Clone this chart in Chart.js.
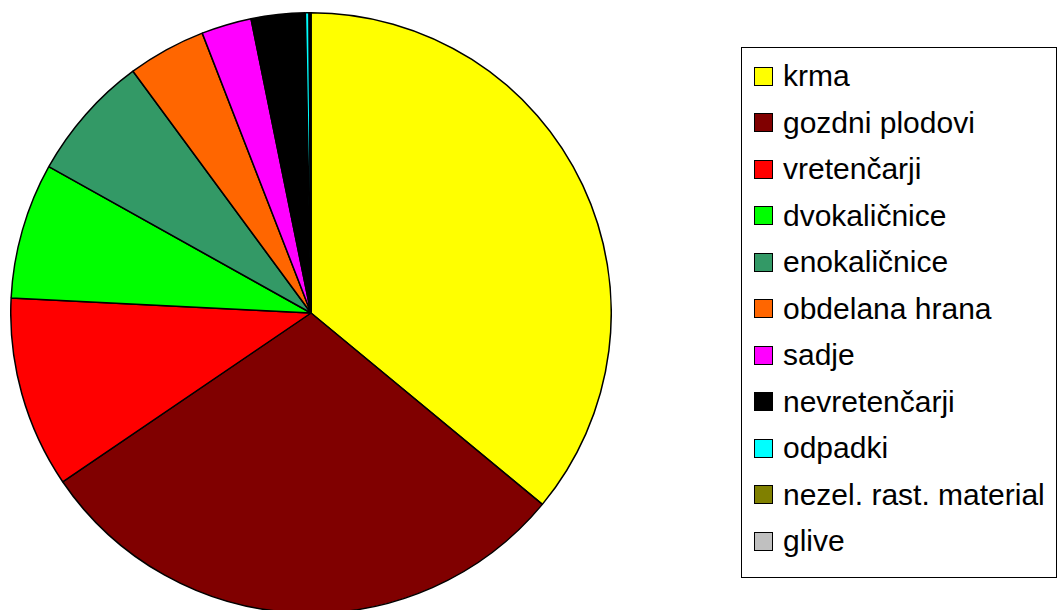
<!doctype html>
<html lang="sl">
  <head>
    <meta charset="utf-8">
    <title>Prehrana</title>
    <script src="https://cdn.jsdelivr.net/npm/chart.js"></script>
    <style>
      html, body { margin: 0; padding: 0; background: #fff; overflow: hidden; }
      body { width: 1059px; height: 610px; position: relative; font-family: "Liberation Sans", Arial, sans-serif; }
      #wrap { position: absolute; left: 10px; top: 12px; width: 602px; height: 602px; }
      #legend { position: absolute; left: 741px; top: 47px; width: 316px; height: 531px; border: 1.5px solid #000; box-sizing: border-box; padding-top: 5px; }
      .item { height: 46.5px; display: flex; align-items: center; font-size: 30px; color: #000; }
      .box { width: 19px; height: 19px; border: 1.5px solid #000; box-sizing: border-box; margin-left: 12px; margin-right: 10px; flex: none; }
    </style>
  </head>
  <body>
    <div id="wrap"><canvas id="pie"></canvas></div>
    <div id="legend"></div>
    <script>
      const categories = ['krma', 'gozdni plodovi', 'vretenčarji', 'dvokaličnice', 'enokaličnice',
        'obdelana hrana', 'sadje', 'nevretenčarji', 'odpadki', 'nezel. rast. material', 'glive'];
      const shares = [36.0, 29.5, 10.3, 7.3, 6.8, 4.2, 2.7, 2.9, 0.2, 0.05, 0.05];
      const colours = ['#FFFF00', '#800000', '#FF0000', '#00FF00', '#339966',
        '#FF6600', '#FF00FF', '#000000', '#00FFFF', '#808000', '#C0C0C0'];

      const legend = document.getElementById('legend');
      categories.forEach((name, i) => {
        const row = document.createElement('div');
        row.className = 'item';
        const box = document.createElement('span');
        box.className = 'box';
        box.style.background = colours[i];
        row.appendChild(box);
        row.appendChild(document.createTextNode(name));
        legend.appendChild(row);
      });

      new Chart(document.getElementById('pie'), {
        type: 'pie',
        data: {
          labels: categories,
          datasets: [{
            data: shares,
            backgroundColor: colours,
            borderColor: '#000',
            borderWidth: 1.5
          }]
        },
        options: {
          responsive: true,
          maintainAspectRatio: false,
          animation: false,
          plugins: {
            legend: { display: false },
            tooltip: { enabled: false }
          }
        }
      });
    </script>
  </body>
</html>
